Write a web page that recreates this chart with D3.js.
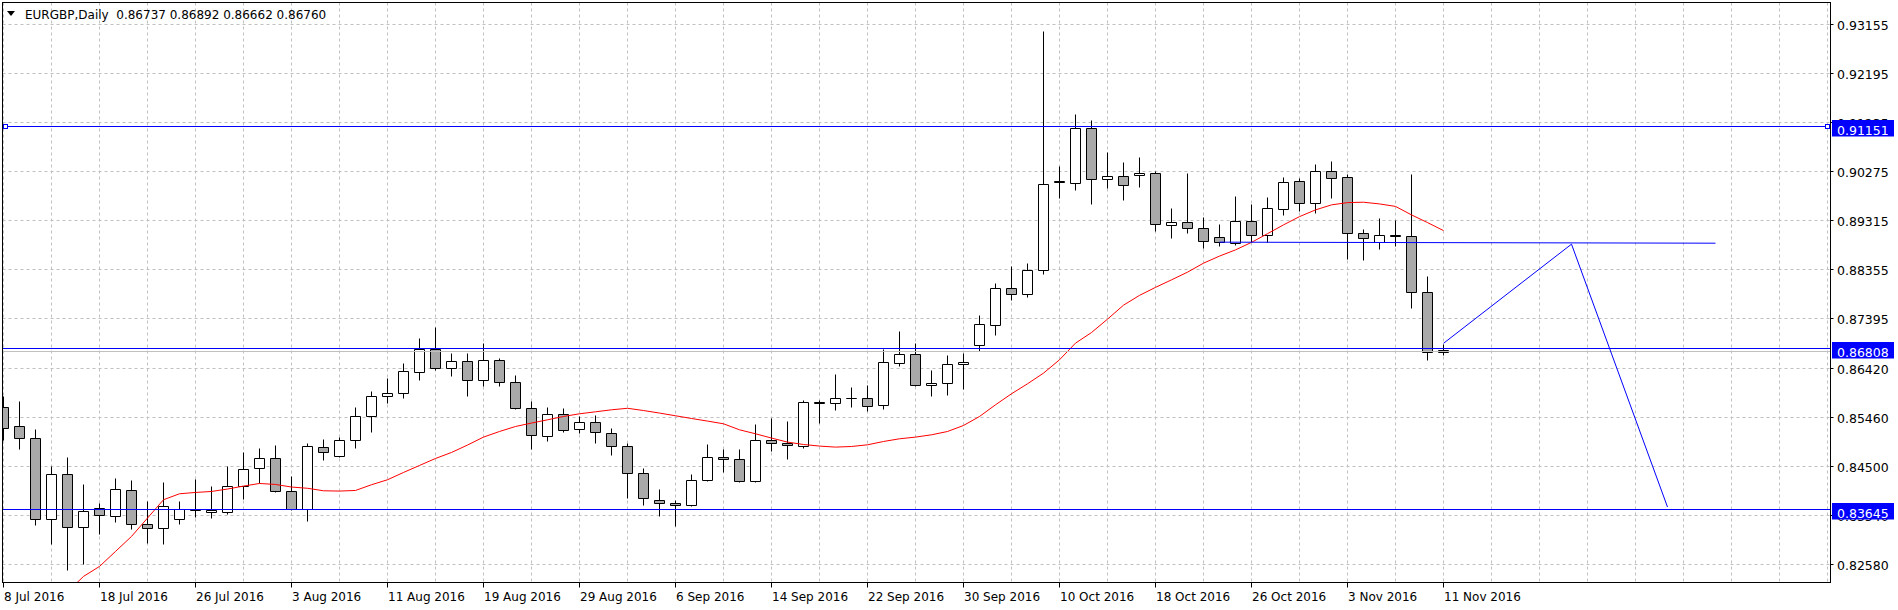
<!DOCTYPE html>
<html>
<head>
<meta charset="utf-8">
<script src="https://cdn.jsdelivr.net/npm/d3@7"></script>
<style>
    body { margin: 0; background: #ffffff; }
    svg { display: block; font-family: "DejaVu Sans", Verdana, sans-serif; }
</style>
</head>
<body>
<svg id="chart" width="1898" height="610"></svg>
<script>
/**
 * Chart data (daily bars, 8 Jul 2016 .. 11 Nov 2016)
 */
var symbol = "EURGBP,Daily";

var opens = [0.85650,0.85270,0.85043,0.83448,0.84337,0.83299,0.83671,0.83507,0.84024,0.83358,
    0.83272,0.83456,0.83638,0.83585,0.83585,0.84102,0.84447,0.84651,0.84004,0.83652,
    0.84866,0.84690,0.85004,0.85474,0.85866,0.85924,0.86336,0.86798,0.86414,0.86551,
    0.86179,0.86571,0.86140,0.85630,0.85082,0.85513,0.85219,0.85356,0.85141,0.84886,
    0.84357,0.83820,0.83769,0.83722,0.84220,0.84670,0.84631,0.84200,0.85004,0.84945,
    0.84878,0.85748,0.85728,0.85826,0.85826,0.85689,0.86512,0.86688,0.86081,0.86120,
    0.86493,0.86865,0.87257,0.87982,0.87864,0.88334,0.90078,0.90051,0.91116,0.90117,
    0.90176,0.90195,0.90235,0.89216,0.89275,0.89157,0.88981,0.88863,0.89294,0.89020,
    0.89529,0.90078,0.89647,0.90274,0.90156,0.89059,0.88883,0.89020,0.89000,0.87903,
    0.86737];
var highs = [0.85858,0.85774,0.85219,0.84500,0.84676,0.84147,0.83769,0.84265,0.84226,0.83814,
    0.84187,0.83814,0.84245,0.84108,0.84500,0.84774,0.84853,0.84911,0.84304,0.84951,
    0.85023,0.85062,0.85656,0.85969,0.86218,0.86512,0.87008,0.87223,0.86708,0.86708,
    0.86910,0.86610,0.86277,0.85768,0.85656,0.85630,0.85474,0.85493,0.85239,0.84945,
    0.84447,0.84049,0.83834,0.84343,0.84931,0.84833,0.84833,0.85323,0.85440,0.85382,
    0.85787,0.85787,0.86297,0.86048,0.86081,0.86786,0.87145,0.86904,0.86381,0.86669,
    0.86714,0.87458,0.88079,0.88418,0.88471,0.93017,0.90378,0.91396,0.91279,0.90646,
    0.90450,0.90548,0.90274,0.89549,0.90241,0.89373,0.89235,0.89784,0.89633,0.89764,
    0.90156,0.90137,0.90417,0.90470,0.90221,0.89137,0.89353,0.89320,0.90221,0.88217,
    0.86892];
var lows = [0.84996,0.84827,0.83338,0.82972,0.82462,0.82580,0.83168,0.83389,0.83260,0.82986,
    0.82972,0.83350,0.83495,0.83468,0.83560,0.83840,0.84161,0.83977,0.83638,0.83409,
    0.84604,0.84680,0.84847,0.85160,0.85740,0.85826,0.86179,0.86375,0.86250,0.85877,
    0.86073,0.86054,0.85611,0.84819,0.84976,0.85160,0.85141,0.84945,0.84710,0.83859,
    0.83722,0.83507,0.83311,0.83703,0.84200,0.84369,0.84187,0.84181,0.84794,0.84637,
    0.84839,0.85329,0.85603,0.85650,0.85583,0.85611,0.86446,0.86073,0.85858,0.85897,
    0.86014,0.86747,0.87061,0.87746,0.87817,0.88262,0.89757,0.89913,0.89639,0.89941,
    0.89717,0.89972,0.89110,0.88973,0.89071,0.88777,0.88816,0.88836,0.88895,0.88883,
    0.89418,0.89502,0.89451,0.89757,0.88561,0.88542,0.88757,0.88816,0.87601,0.86583,
    0.86662];
var closes = [0.85239,0.85043,0.83448,0.84337,0.83299,0.83612,0.83526,0.84044,0.83358,0.83279,
    0.83710,0.83652,0.83658,0.83638,0.84102,0.84435,0.84651,0.83996,0.83652,0.84886,
    0.84765,0.85004,0.85474,0.85866,0.85924,0.86355,0.86798,0.86414,0.86551,0.86179,
    0.86571,0.86140,0.85630,0.85101,0.85513,0.85199,0.85356,0.85160,0.84886,0.84357,
    0.83867,0.83769,0.83722,0.84220,0.84670,0.84631,0.84200,0.85004,0.84945,0.84906,
    0.85748,0.85728,0.85826,0.85826,0.85670,0.86532,0.86688,0.86081,0.86120,0.86493,
    0.86532,0.87276,0.87982,0.87864,0.88334,0.90019,0.90058,0.91116,0.90117,0.90176,
    0.89999,0.90235,0.89235,0.89275,0.89157,0.88902,0.88883,0.89294,0.89020,0.89549,
    0.90058,0.89647,0.90274,0.90137,0.89059,0.88961,0.89020,0.89006,0.87903,0.86728,
    0.86760];

// moving average (red), no value on the first bars
var maValues = [null,null,null,null,0.82031,0.82331,0.82527,0.82821,0.83115,0.83475,
    0.83834,0.83951,0.83977,0.83996,0.84044,0.84102,0.84153,0.84134,0.84083,0.84059,
    0.84010,0.84004,0.84016,0.84128,0.84226,0.84369,0.84506,0.84643,0.84761,0.84906,
    0.85062,0.85172,0.85270,0.85337,0.85401,0.85466,0.85519,0.85558,0.85597,0.85627,
    0.85583,0.85533,0.85480,0.85427,0.85376,0.85323,0.85205,0.85127,0.85043,0.84964,
    0.84917,0.84886,0.84866,0.84878,0.84911,0.84976,0.85029,0.85062,0.85107,0.85172,
    0.85290,0.85466,0.85695,0.85911,0.86107,0.86316,0.86577,0.86904,0.87112,0.87374,
    0.87648,0.87840,0.87997,0.88144,0.88295,0.88471,0.88610,0.88732,0.88879,0.89049,
    0.89222,0.89384,0.89516,0.89614,0.89659,0.89666,0.89633,0.89584,0.89418,0.89267,
    0.89110];

// horizontal lines and drawn objects
var levels = [0.91151, 0.86808, 0.83645];
var trendBars = [76, 107];
var trendPrices = [0.88883, 0.88863];
var zigBars = [90, 98, 104];
var zigPrices = [0.86900, 0.88844, 0.83691];

// axes
var priceTicks = [0.93155, 0.92195, 0.91235, 0.90275, 0.89315, 0.88355, 0.87395,
    0.86420, 0.85460, 0.84500, 0.83540, 0.82580];
var dateLabels = ["8 Jul 2016", "18 Jul 2016", "26 Jul 2016", "3 Aug 2016", "11 Aug 2016",
    "19 Aug 2016", "29 Aug 2016", "6 Sep 2016", "14 Sep 2016", "22 Sep 2016", "30 Sep 2016",
    "10 Oct 2016", "18 Oct 2016", "26 Oct 2016", "3 Nov 2016", "11 Nov 2016"];
var barsPerLabel = 6;
var barsPerGrid = 3;
var totalBars = 114;   // visible slots incl. empty space on the right

var plot = {left: 2.5, top: 2.5, right: 1830.5, bottom: 582.5};

var svg = d3.select("#chart");

var x = d3.scaleLinear().domain([0, totalBars]).range([3, 1827]);
var y = d3.scaleLinear().domain([0.82208, 0.93577]).range([582.7, 2.7]);

function px(i) { return Math.round(x(i)) + 0.5; }
function py(p) { return Math.round(y(p)) + 0.5; }

svg.append("defs").append("clipPath").attr("id", "clip")
    .append("rect")
    .attr("x", plot.left).attr("y", plot.top)
    .attr("width", plot.right - plot.left).attr("height", plot.bottom - plot.top);

var g = svg.append("g").attr("clip-path", "url(#clip)");

// grid
g.selectAll(".hgrid")
    .data(priceTicks)
    .enter()
    .append("line")
    .attr("x1", plot.left).attr("x2", plot.right)
    .attr("y1", function(d){ return py(d); })
    .attr("y2", function(d){ return py(d); })
    .style("stroke", "#c0c0c0")
    .style("stroke-dasharray", "3,3");

g.selectAll(".vgrid")
    .data(d3.range(0, totalBars + 1, barsPerGrid))
    .enter()
    .append("line")
    .attr("x1", function(d){ return px(d); })
    .attr("x2", function(d){ return px(d); })
    .attr("y1", plot.top).attr("y2", plot.bottom)
    .style("stroke", "#c0c0c0")
    .style("stroke-dasharray", "3,3");

// candles
var bars = d3.range(opens.length);

g.selectAll(".wick")
    .data(bars)
    .enter()
    .append("line")
    .attr("x1", function(i){ return px(i); })
    .attr("x2", function(i){ return px(i); })
    .attr("y1", function(i){ return py(highs[i]); })
    .attr("y2", function(i){ return py(lows[i]); })
    .style("stroke", "#000000");

g.selectAll(".body")
    .data(bars)
    .enter()
    .append("path")
    .attr("d", function(i){
        var top = py(Math.max(opens[i], closes[i])),
            bot = py(Math.min(opens[i], closes[i])),
            c = px(i);
        return "M" + (c - 5) + "," + top + "H" + (c + 5) + "V" + bot + "H" + (c - 5) + "Z";
    })
    .style("fill", function(i){
        return closes[i] >= opens[i] ? "#ffffff" : "#a9a9a9";
    })
    .style("stroke", "#000000");

// moving average
var maLine = d3.line()
    .defined(function(d){ return d !== null; })
    .x(function(d, i){ return x(i) + 0.5; })
    .y(function(d){ return y(d); });

g.append("path")
    .datum(maValues)
    .attr("d", maLine)
    .style("fill", "none")
    .style("stroke", "#ff0000")
    .style("stroke-width", "1px");

// bid line
g.append("line")
    .attr("x1", plot.left).attr("x2", plot.right)
    .attr("y1", py(closes[closes.length - 1]) + 1)
    .attr("y2", py(closes[closes.length - 1]) + 1)
    .style("stroke", "#c0c0c0");

// horizontal levels
g.selectAll(".level")
    .data(levels)
    .enter()
    .append("line")
    .attr("x1", plot.left).attr("x2", plot.right)
    .attr("y1", function(d){ return py(d); })
    .attr("y2", function(d){ return py(d); })
    .style("stroke", "#0000ff");

// trend line and zigzag
var objLine = d3.line()
    .x(function(d){ return x(d[0]) + 0.5; })
    .y(function(d){ return y(d[1]); });

g.append("path")
    .datum(d3.zip(trendBars, trendPrices))
    .attr("d", objLine)
    .style("fill", "none")
    .style("stroke", "#0000ff");

g.append("path")
    .datum(d3.zip(zigBars, zigPrices))
    .attr("d", objLine)
    .style("fill", "none")
    .style("stroke", "#0000ff");

// selection markers on the first level
[plot.left + 1, plot.right - 5].forEach(function(mx){
    g.append("rect")
        .attr("x", mx).attr("y", py(levels[0]) - 2)
        .attr("width", 4).attr("height", 4)
        .style("fill", "#ffffff")
        .style("stroke", "#0000ff");
});

// frame
svg.append("rect")
    .attr("x", plot.left).attr("y", plot.top)
    .attr("width", plot.right - plot.left).attr("height", plot.bottom - plot.top)
    .style("fill", "none")
    .style("stroke", "#000000");

// price axis
var yAxis = svg.append("g").attr("class", "y-axis");
yAxis.selectAll("line")
    .data(priceTicks)
    .enter()
    .append("line")
    .attr("x1", plot.right).attr("x2", plot.right + 3)
    .attr("y1", function(d){ return py(d); })
    .attr("y2", function(d){ return py(d); })
    .style("stroke", "#000000");
yAxis.selectAll("text")
    .data(priceTicks)
    .enter()
    .append("text")
    .attr("x", 1837)
    .attr("y", function(d){ return py(d) + 5.5; })
    .style("font-size", "12.5px")
    .style("fill", "#000000")
    .text(function(d){ return d.toFixed(5); });

// level labels
var tags = svg.append("g").attr("class", "tags");
tags.selectAll("rect")
    .data(levels)
    .enter()
    .append("rect")
    .attr("x", 1832).attr("width", 62)
    .attr("y", function(d){ return Math.round(y(d)) - 6; })
    .attr("height", 16.5)
    .style("fill", "#0000ff");
tags.selectAll("text")
    .data(levels)
    .enter()
    .append("text")
    .attr("x", 1837)
    .attr("y", function(d){ return Math.round(y(d)) + 8.5; })
    .style("font-size", "12.5px")
    .style("fill", "#ffffff")
    .text(function(d){ return d.toFixed(5); });

// time axis
var xAxis = svg.append("g").attr("class", "x-axis");
xAxis.selectAll("line")
    .data(dateLabels)
    .enter()
    .append("line")
    .attr("x1", function(d, i){ return px(i * barsPerLabel); })
    .attr("x2", function(d, i){ return px(i * barsPerLabel); })
    .attr("y1", plot.bottom).attr("y2", plot.bottom + 5)
    .style("stroke", "#000000");
xAxis.selectAll("text")
    .data(dateLabels)
    .enter()
    .append("text")
    .attr("x", function(d, i){ return Math.round(x(i * barsPerLabel)) + 1; })
    .attr("y", 601)
    .style("font-size", "12px")
    .style("fill", "#000000")
    .text(function(d){ return d; });

// header
svg.append("path")
    .attr("d", "M7,11H15L11,16Z")
    .style("fill", "#000000");
svg.append("text")
    .attr("x", 25).attr("y", 18.5)
    .attr("xml:space", "preserve")
    .style("font-size", "12px")
    .style("white-space", "pre")
    .text(symbol + "  " + [opens[90], highs[90], lows[90], closes[90]].map(function(v){
        return v.toFixed(5);
    }).join(" "));
</script>
</body>
</html>
